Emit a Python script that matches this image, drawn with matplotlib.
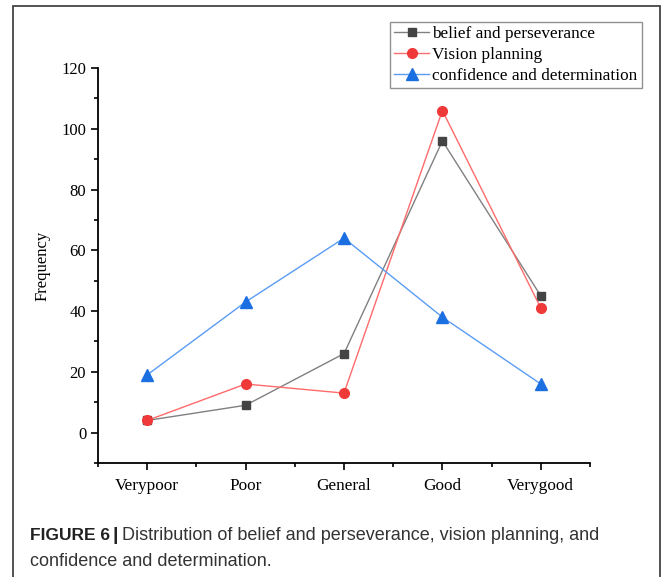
import matplotlib
matplotlib.use("Agg")
import matplotlib.pyplot as plt
from matplotlib.patches import Rectangle
from matplotlib.ticker import FixedLocator

categories = ["Verypoor", "Poor", "General", "Good", "Verygood"]
belief = [4, 9, 26, 96, 45]
vision = [4, 16, 13, 106, 41]
confidence = [19, 43, 64, 38, 16]

plt.rcParams['font.family'] = ['Liberation Serif', 'DejaVu Serif']

fig = plt.figure(figsize=(6.7, 5.77), dpi=100)
fig.patch.set_facecolor('white')

# outer border
fig.add_artist(Rectangle((13/670, -0.05), (660-13)/670, 1.05 - 6/577,
                         transform=fig.transFigure, fill=False,
                         edgecolor='#444444', linewidth=1.3))

ax = fig.add_axes([98/670, 1-463/577, (590-98)/670, (463-68)/577])
x = list(range(len(categories)))
ax.plot(x, belief, color='#808080', lw=1.0, marker='s', ms=6,
        mfc='#444444', mec='#444444', label='belief and perseverance')
ax.plot(x, vision, color='#ff6b6b', lw=1.0, marker='o', ms=7,
        mfc='#f03a3a', mec='#f03a3a', label='Vision planning')
ax.plot(x, confidence, color='#5a9cf5', lw=1.0, marker='^', ms=8,
        mfc='#1c6fe0', mec='#1c6fe0', label='confidence and determination')

ax.set_xlim(-0.5, 4.5)
ax.set_ylim(-10, 120)
ax.set_xticks(x)
ax.set_xticklabels(categories, fontsize=12.4)
ax.xaxis.set_minor_locator(FixedLocator([-0.5, 0.5, 1.5, 2.5, 3.5, 4.5]))
ax.yaxis.set_major_locator(FixedLocator([0, 20, 40, 60, 80, 100, 120]))
ax.yaxis.set_minor_locator(FixedLocator([-10, 10, 30, 50, 70, 90, 110]))
ax.tick_params(axis='both', which='major', direction='out', length=5, width=1.2,
               color='black')
ax.tick_params(axis='y', which='major', labelsize=12)
ax.tick_params(axis='both', which='minor', direction='out', length=3, width=1.2)
ax.tick_params(axis='x', pad=6)
for s in ['top', 'right']:
    ax.spines[s].set_visible(False)
for s in ['left', 'bottom']:
    ax.spines[s].set_linewidth(1.3)
ax.set_ylabel('Frequency', fontsize=12, labelpad=8)

leg = fig.legend(loc='upper left', bbox_to_anchor=(390/670, 1-22/577),
                 fontsize=12.4, frameon=True, fancybox=False, edgecolor='#777777',
                 handlelength=2.0, handletextpad=0.2, borderpad=0.25,
                 labelspacing=0.28, borderaxespad=0)
leg.get_frame().set_linewidth(1.0)

# caption
fig.canvas.draw()
r = fig.canvas.get_renderer()
cap_font = ['Liberation Sans', 'DejaVu Sans']
bfs = 12.5
cfs = 13.0
t1 = fig.text(30/670, 1-536/577, 'FIGURE 6', fontsize=bfs, fontweight='bold',
              family=cap_font, color='#222222', va='center')
bb = t1.get_window_extent(renderer=r)
x2 = (bb.x1 + 3) / fig.bbox.width
t2 = fig.text(x2, 1-536/577, '|', fontsize=14, fontweight='bold',
              family=cap_font, color='#222222', va='center')
bb2 = t2.get_window_extent(renderer=r)
x3 = (bb2.x1 + 3) / fig.bbox.width
fig.text(x3, 1-536/577, 'Distribution of belief and perseverance, vision planning, and',
         fontsize=cfs, family=cap_font, color='#333333', va='center')
fig.text(30/670, 1-561/577, 'confidence and determination.',
         fontsize=cfs, family=cap_font, color='#333333', va='center')

fig.savefig('out.png', dpi=100)
